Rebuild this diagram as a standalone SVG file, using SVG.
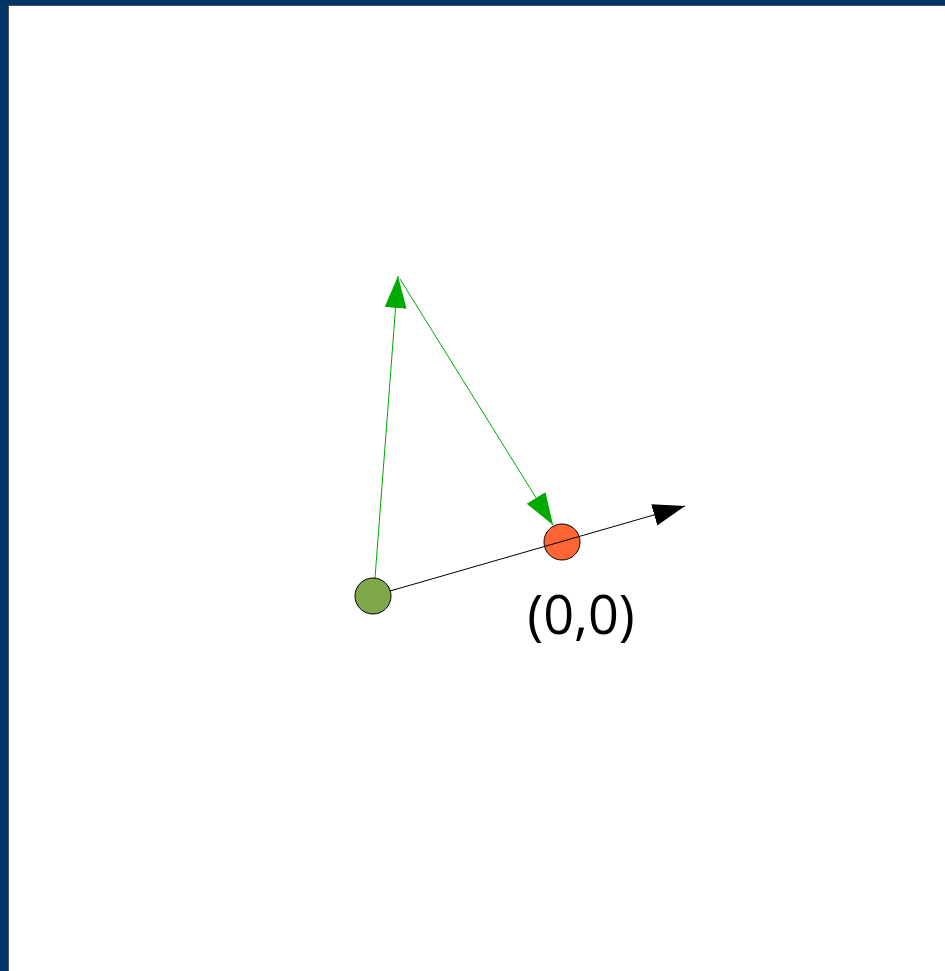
<svg xmlns="http://www.w3.org/2000/svg" width="945" height="971" viewBox="0 0 945 971">
<style>
.frame{fill:#003366}
.edge{fill:#555555}
.g{stroke:#00aa00;stroke-width:1;fill:none}
.k{stroke:#000000;stroke-width:1;fill:none}
.node{stroke:#000000;stroke-width:1}
.lbl{font-family:"Open Sans","Liberation Sans",sans-serif;font-size:54px;fill:#000000}
</style>
<defs>
<marker id="ag" markerUnits="userSpaceOnUse" markerWidth="34" markerHeight="24" refX="32" refY="11" orient="auto"><path d="M0,0 L32,11 L0,22 z" fill="#00aa00"/></marker>
<marker id="ak" markerUnits="userSpaceOnUse" markerWidth="34" markerHeight="24" refX="32" refY="11" orient="auto"><path d="M0,0 L32,11 L0,22 z" fill="#000000"/></marker>
</defs>
<rect width="945" height="971" fill="#ffffff"/>
<rect class="frame" x="0" y="0" width="945" height="5"/>
<rect class="edge" x="8" y="5" width="937" height="1"/>
<rect class="frame" x="0" y="0" width="8" height="971"/>
<rect class="edge" x="8" y="5" width="1" height="966"/>
<g id="origin"><circle class="node" cx="562" cy="542" r="18" fill="#ff6633"/></g>
<g id="connectors">
<line class="k" x1="390" y1="591" x2="685" y2="506" marker-end="url(#ak)"/>
<line class="g" x1="375" y1="578" x2="398" y2="276" marker-end="url(#ag)"/>
<line class="g" x1="400" y1="279" x2="553" y2="525" marker-end="url(#ag)"/>
</g>
<g id="start"><circle class="node" cx="373" cy="596" r="18" fill="#7ea84a"/></g>
<g id="label"><text class="lbl" x="581" y="634" text-anchor="middle">(0,0)</text></g>
</svg>
